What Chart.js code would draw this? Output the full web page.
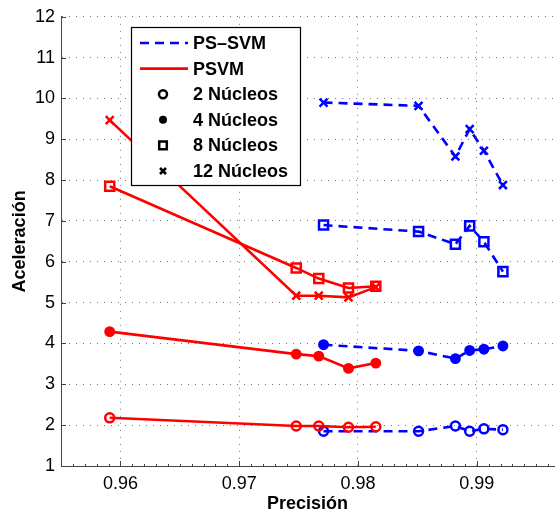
<!DOCTYPE html>
<html>
<head>
<meta charset="utf-8">
<script src="https://cdn.jsdelivr.net/npm/chart.js@4.4.1/dist/chart.umd.min.js"></script>
<style>
  body { margin: 0; background: #fff; }
</style>
</head>
<body>
<canvas id="myChart" width="557" height="513"></canvas>
<script>
(() => {
  'use strict'

// Precision (x) and speed-up (y) for each method and core count
var methodLabels = ['PS–SVM', 'PSVM'];
var coreLabels = ['2 Núcleos', '4 Núcleos', '8 Núcleos', '12 Núcleos'];

var psvmPrecision = [0.9591, 0.9748, 0.9767, 0.9792, 0.9815];
var psvm2 = [2.18, 1.98, 1.98, 1.95, 1.96];
var psvm4 = [4.29, 3.74, 3.69, 3.39, 3.52];
var psvm8 = [7.85, 5.85, 5.59, 5.36, 5.40];
var psvm12 = [9.47, 5.17, 5.17, 5.13, 5.38];

var pssvmPrecision = [0.9771, 0.9851, 0.9882, 0.9894, 0.9906, 0.9922];
var pssvm2 = [1.85, 1.85, 1.98, 1.85, 1.91, 1.89];
var pssvm4 = [3.97, 3.82, 3.63, 3.83, 3.86, 3.94];
var pssvm8 = [6.90, 6.74, 6.43, 6.88, 6.49, 5.76];
var pssvm12 = [9.90, 9.82, 8.58, 9.25, 8.72, 7.88];

var xTicks = [0.96, 0.97, 0.98, 0.99];
var yTicks = [1, 2, 3, 4, 5, 6, 7, 8, 9, 10, 11, 12];

var RED = '#ff0000';
var BLUE = '#0000ff';
var FONT = "'Liberation Sans', Arial, Helvetica, sans-serif";

// marker per core count: open circle, dot, square, x
var markers = [
  { style: 'circle', radius: 4.5, fill: false },
  { style: 'circle', radius: 4.2, fill: true },
  { style: 'rect', radius: 6.4, fill: false },
  { style: 'crossRot', radius: 5.6, fill: false }
];

function pairs(xs, ys) {
  return ys.map(function (y, i) { return { x: xs[i], y: y }; });
}

function makeSet(label, xs, ys, color, dashed, k) {
  var m = markers[k];
  return {
    label: label,
    data: pairs(xs, ys),
    showLine: true,
    borderColor: color,
    borderWidth: 2.6,
    borderDash: dashed ? [9, 6] : [],
    pointStyle: m.style,
    pointRadius: m.radius,
    pointHoverRadius: m.radius,
    pointBorderWidth: 2.5,
    pointBorderColor: color,
    pointBackgroundColor: m.fill ? color : 'rgba(0,0,0,0)',
    fill: false
  };
}

var psvmSeries = [psvm2, psvm4, psvm8, psvm12];
var pssvmSeries = [pssvm2, pssvm4, pssvm8, pssvm12];

var datasets = [];
psvmSeries.forEach(function (ys, k) {
  datasets.push(makeSet('PSVM ' + coreLabels[k], psvmPrecision, ys, RED, false, k));
});
pssvmSeries.forEach(function (ys, k) {
  datasets.push(makeSet('PS-SVM ' + coreLabels[k], pssvmPrecision, ys, BLUE, true, k));
});

// small legend symbol drawing in black
function drawSymbol(c, k, x, y) {
  c.save();
  c.strokeStyle = '#000';
  c.fillStyle = '#000';
  c.lineWidth = 2.5;
  c.beginPath();
  if (k === 0) {
    c.arc(x, y, 4, 0, Math.PI * 2);
    c.stroke();
  } else if (k === 1) {
    c.arc(x, y, 4, 0, Math.PI * 2);
    c.fill();
  } else if (k === 2) {
    c.rect(x - 3.8, y - 3.8, 7.6, 7.6);
    c.stroke();
  } else {
    c.moveTo(x - 3, y - 3); c.lineTo(x + 3, y + 3);
    c.moveTo(x + 3, y - 3); c.lineTo(x - 3, y + 3);
    c.stroke();
  }
  c.restore();
}

// inward tick marks (major and minor) like the original axes
var tickPlugin = {
  id: 'innerTicks',
  afterDatasetsDraw: function (chart) {
    var c = chart.ctx;
    var xs = chart.scales.x, ys = chart.scales.y;
    var area = chart.chartArea;
    c.save();
    c.strokeStyle = '#444';
    c.lineWidth = 1;
    c.beginPath();
    yTicks.forEach(function (v) {
      var py = Math.round(ys.getPixelForValue(v)) + 0.5;
      c.moveTo(area.left, py); c.lineTo(area.left + 5, py);
    });
    for (var v = 0.956; v < xs.max; v += 0.001) {
      var px = Math.round(xs.getPixelForValue(v)) + 0.5;
      var major = xTicks.some(function (t) { return Math.abs(t - v) < 0.0001; });
      c.moveTo(px, area.bottom); c.lineTo(px, area.bottom - (major ? 5 : 2));
    }
    c.stroke();
    c.restore();
  }
};

var legendPlugin = {
  id: 'boxLegend',
  afterDraw: function (chart) {
    var c = chart.ctx;
    var bx = 131, by = 27, bw = 169, bh = 158;
    var rowY = by + 16, step = 25.6;
    c.save();
    c.fillStyle = '#fff';
    c.fillRect(bx, by, bw, bh);
    c.strokeStyle = '#000';
    c.lineWidth = 1.2;
    c.strokeRect(bx + 0.5, by + 0.5, bw, bh);

    c.font = 'bold 18px ' + FONT;
    c.textBaseline = 'middle';
    c.textAlign = 'left';

    // method rows: line samples
    [BLUE, RED].forEach(function (col, i) {
      var y = rowY + i * step;
      c.strokeStyle = col;
      c.lineWidth = 2.6;
      c.setLineDash(i === 0 ? [9, 6] : []);
      c.beginPath();
      c.moveTo(bx + 9, y); c.lineTo(bx + 57, y);
      c.stroke();
      c.setLineDash([]);
      c.fillStyle = '#000';
      c.fillText(methodLabels[i], bx + 62, y + 1);
    });

    // core rows: marker samples
    coreLabels.forEach(function (lab, k) {
      var y = rowY + (k + 2) * step;
      drawSymbol(c, k, bx + 32, y);
      c.fillStyle = '#000';
      c.fillText(lab, bx + 62, y + 1);
    });
    c.restore();
  }
};

var ctx = document.getElementById('myChart').getContext('2d');

var myChart = new Chart(ctx, {
  type: 'scatter',
  data: { datasets: datasets },
  options: {
    responsive: false,
    animation: false,
    devicePixelRatio: 1,
    layout: { autoPadding: false, padding: { top: 15, right: 3, left: 0, bottom: 0 } },
    plugins: {
      legend: { display: false },
      tooltip: { enabled: false }
    },
    scales: {
      x: {
        type: 'linear',
        min: 0.955,
        max: 0.9965,
        afterBuildTicks: function (scale) {
          scale.ticks = xTicks.map(function (v) { return { value: v }; });
        },
        afterFit: function (scale) {
          scale.height = 47;
          scale.paddingLeft = 0;
          scale.paddingRight = 0;
        },
        ticks: {
          color: '#000',
          padding: 7,
          font: { family: FONT, size: 18 },
          callback: function (v) { return v.toFixed(2); }
        },
        grid: { color: '#777', lineWidth: 1, drawTicks: false },
        border: { display: true, color: '#444', width: 1, dash: [1, 6] },
        title: {
          display: true,
          text: 'Precisión',
          color: '#000',
          padding: { top: 0, bottom: -2 },
          font: { family: FONT, size: 18, weight: 'bold' }
        }
      },
      y: {
        min: 1,
        max: 12,
        afterBuildTicks: function (scale) {
          scale.ticks = yTicks.map(function (v) { return { value: v }; });
        },
        afterFit: function (scale) { scale.width = 61; },
        ticks: {
          color: '#000',
          padding: 6,
          font: { family: FONT, size: 18 },
          callback: function (v) { return String(v); }
        },
        grid: { color: '#777', lineWidth: 1, drawTicks: false },
        border: { display: true, color: '#444', width: 1, dash: [1, 6] },
        title: {
          display: true,
          text: 'Aceleración',
          color: '#000',
          padding: { top: 9, bottom: 0 },
          font: { family: FONT, size: 18, weight: 'bold' }
        }
      }
    }
  },
  plugins: [tickPlugin, legendPlugin]
});
})()
</script>
</body>
</html>
